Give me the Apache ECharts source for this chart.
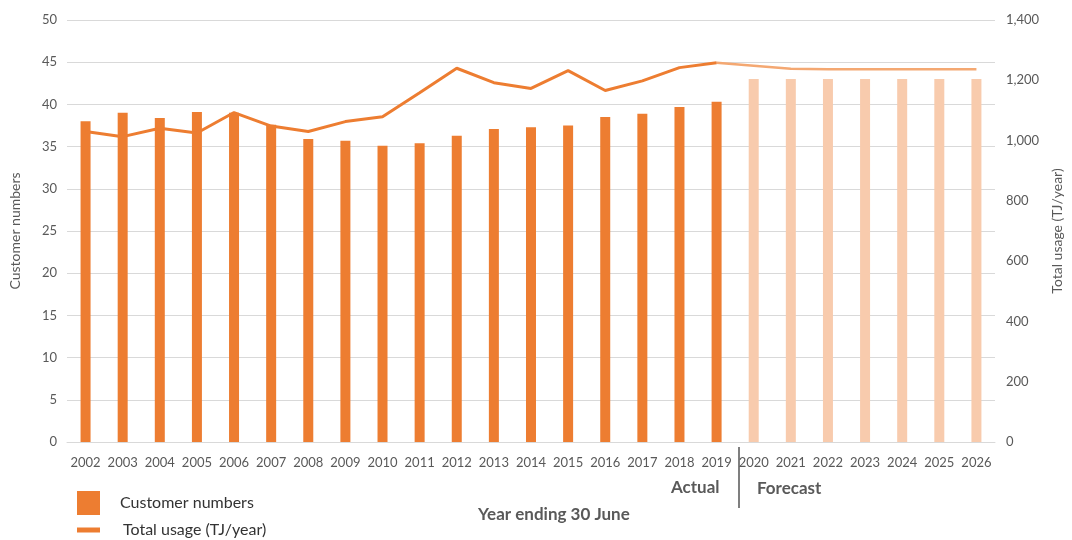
<!DOCTYPE html>
<html>
<head>
  <meta charset="utf-8">
  <title>Customer numbers and total usage</title>
  <script src="https://cdn.jsdelivr.net/npm/echarts@6.0.0/dist/echarts.min.js"></script>
  <style>
    html, body { margin: 0; padding: 0; background: #fff; }
    #chart { width: 1072px; height: 540px; }
  </style>
</head>
<body>
<div id="chart"></div>
<script>
  // years, actual up to 2019 then forecast
  const years = ['2002','2003','2004','2005','2006','2007','2008','2009','2010','2011','2012','2013',
                 '2014','2015','2016','2017','2018','2019','2020','2021','2022','2023','2024','2025','2026'];
  const actualCount = 18;   // 2002-2019 are actual
  // customer numbers (left axis)
  const customers = [38.0, 39.0, 38.4, 39.1, 39.0, 37.6, 35.9, 35.7, 35.1, 35.4, 36.3, 37.1,
                     37.3, 37.5, 38.5, 38.9, 39.7, 40.3, 43.0, 43.0, 43.0, 43.0, 43.0, 43.0, 43.0];
  // total usage TJ/year (right axis)
  const usage = [1030, 1013, 1041, 1025, 1093, 1048, 1030, 1063, 1079, 1159, 1240, 1192,
                 1173, 1232, 1166, 1198, 1242, 1258, 1248, 1238, 1237, 1237, 1237, 1237, 1237];
  const leftTicks = [0, 50, 5];
  const rightTicks = [0, 1400, 200];

  const dark = '#ED7D31';
  const light = '#F8CBAD';
  const lightLine = '#F4A872';
  const fontFam = 'Lato, "Open Sans", sans-serif';

  let barData = customers.map(function (v, i) {
    return i < actualCount ? v : { value: v, itemStyle: { color: light } };
  });
  let usageActual = usage.map(function (v, i) { return i < actualCount ? v : '-'; });
  let usageForecast = usage.map(function (v, i) { return i >= actualCount - 1 ? v : '-'; });

  let myChart = echarts.init(document.getElementById('chart'));
  let option = {
    animation: false,
    textStyle: { fontFamily: fontFam },
    grid: { left: 67, right: 71, top: 20, bottom: 98 },
    legend: [
      {
        data: [{ name: 'Customer numbers', icon: 'rect' }],
        left: 77, top: 491, padding: 0,
        itemWidth: 23, itemHeight: 24,
        textStyle: { fontSize: 16, color: '#333333', padding: [0, 0, 0, 15] }
      },
      {
        data: [{ name: 'Total usage (TJ/year)', icon: 'rect' }],
        left: 77, top: 519, padding: 0,
        itemWidth: 23, itemHeight: 5,
        textStyle: { fontSize: 16, color: '#333333', padding: [0, 0, 0, 18], lineHeight: 22 }
      }
    ],
    xAxis: {
      type: 'category',
      data: years,
      axisTick: { show: false },
      axisLine: { lineStyle: { color: '#D9D9D9' } },
      axisLabel: { color: '#595959', fontSize: 13, margin: 14, interval: 0 }
    },
    yAxis: [
      {
        type: 'value',
        min: leftTicks[0], max: leftTicks[1], interval: leftTicks[2],
        name: 'Customer numbers',
        nameLocation: 'middle',
        nameGap: 45,
        nameTextStyle: { color: '#595959', fontSize: 14 },
        axisLabel: { color: '#595959', fontSize: 13, margin: 10 },
        axisLine: { show: false },
        axisTick: { show: false },
        splitLine: { lineStyle: { color: '#D9D9D9' } }
      },
      {
        type: 'value',
        min: rightTicks[0], max: rightTicks[1], interval: rightTicks[2],
        name: 'Total usage (TJ/year)',
        nameLocation: 'middle',
        nameGap: 55,
        nameTextStyle: { color: '#595959', fontSize: 14 },
        axisLabel: {
          color: '#595959', fontSize: 13, margin: 11,
          formatter: function (v) { return v.toLocaleString('en-US'); }
        },
        axisLine: { show: false },
        axisTick: { show: false },
        splitLine: { show: false }
      }
    ],
    graphic: [
      { type: 'text', left: 671, top: 479, style: { text: 'Actual', fill: '#595959', font: 'bold 17px ' + fontFam } },
      { type: 'text', left: 757, top: 480, style: { text: 'Forecast', fill: '#595959', font: 'bold 17px ' + fontFam } },
      { type: 'text', left: 478, top: 506, style: { text: 'Year ending 30 June', fill: '#595959', font: 'bold 17px ' + fontFam } },
      { type: 'line', shape: { x1: 739, y1: 447, x2: 739, y2: 508 }, style: { stroke: '#7F7F7F', lineWidth: 2 } }
    ],
    series: [
      {
        name: 'Customer numbers',
        type: 'bar',
        yAxisIndex: 0,
        barWidth: 10,
        itemStyle: { color: dark },
        data: barData
      },
      {
        name: 'Total usage (TJ/year)',
        type: 'line',
        yAxisIndex: 1,
        symbol: 'none',
        itemStyle: { color: dark },
        lineStyle: { color: dark, width: 3 },
        data: usageActual,
        z: 3
      },
      {
        name: 'Total usage forecast',
        type: 'line',
        yAxisIndex: 1,
        symbol: 'none',
        lineStyle: { color: lightLine, width: 2.5 },
        data: usageForecast,
        z: 2
      }
    ]
  };
  myChart.setOption(option);
</script>
</body>
</html>
